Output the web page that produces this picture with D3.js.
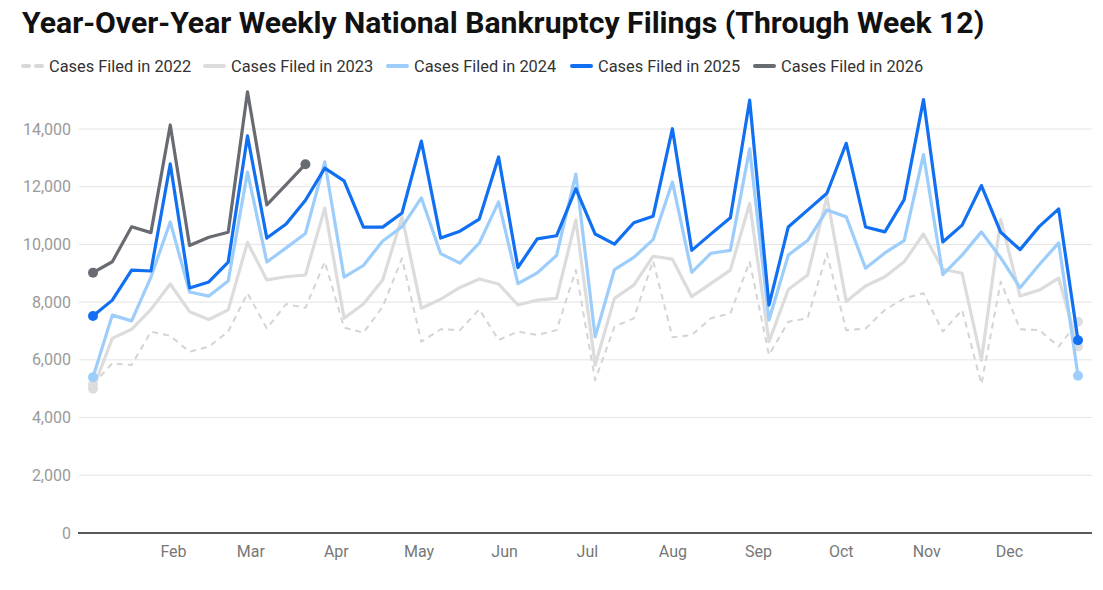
<!DOCTYPE html>
<html>
<head>
<meta charset="utf-8">
<script src="https://cdn.jsdelivr.net/npm/d3@7"></script>
<style>
  html, body { margin: 0; padding: 0; background: #fff; }
  svg { display: block; font-family: Roboto, "Noto Sans", Arial, sans-serif; }
</style>
</head>
<body>
<svg id="chart" width="1103" height="590"></svg>
<script>
// ---------------- DATA ----------------
const titleText = "Year-Over-Year Weekly National Bankruptcy Filings (Through Week 12)";
const weeks = [1,2,3,4,5,6,7,8,9,10,11,12,13,14,15,16,17,18,19,20,21,22,23,24,25,26,
               27,28,29,30,31,32,33,34,35,36,37,38,39,40,41,42,43,44,45,46,47,48,49,50,51,52];
const seriesNames = ["Cases Filed in 2022","Cases Filed in 2023","Cases Filed in 2024","Cases Filed in 2025","Cases Filed in 2026"];

const cases2022 = [5150,5880,5820,6980,6830,6280,6460,6980,8310,7090,7935,7800,9400,
                   7120,6940,7840,9520,6630,7060,7030,7750,6690,6980,6860,7030,9110,
                   5300,7150,7440,9430,6780,6860,7440,7610,9400,6170,7320,7440,9690,
                   7030,7090,7730,8130,8310,6980,7730,5160,8710,7060,7030,6460,7320];
const cases2023 = [5000,6745,7060,7750,8630,7670,7400,7730,10070,8770,8880,8940,11260,
                   7440,7935,8770,10960,7790,8100,8510,8800,8630,7900,8070,8130,10850,
                   5820,8130,8590,9590,9490,8190,8650,9110,11420,6630,8440,8940,11650,
                   8020,8560,8880,9400,10360,9140,9000,5990,10870,8210,8420,8830,6460];
const cases2024 = [5400,7550,7350,8870,10780,8350,8210,8730,12510,9390,9880,10380,12860,
                   8865,9270,10120,10610,11615,9680,9350,10045,11475,8640,9015,9615,12440,
                   6795,9130,9550,10165,12165,9035,9695,9795,13315,7380,9630,10135,11190,
                   10955,9175,9705,10135,13115,8955,9630,10435,9530,8500,9305,10055,5450];
const cases2025 = [7520,8070,9110,9080,12790,8490,8700,9390,13760,10220,10710,11530,12645,
                   12200,10600,10600,11090,13580,10220,10460,10880,13030,9200,10190,10300,11930,
                   10360,10010,10750,10980,14010,9795,10365,10925,15000,7900,10605,11190,11775,
                   13505,10605,10435,11555,15020,10085,10670,12040,10420,9820,10625,11230,6680];
const cases2026 = [9020,9400,10610,10410,14140,9960,10250,10420,15290,11370,12075,12780];

const yTicks = [0,2000,4000,6000,8000,10000,12000,14000];

// ---------------- STYLES ----------------
const styles = [
  {color:"#d4d4d4", width:2,   dash:"6,5", dot:"#dedede"},
  {color:"#dcdcdc", width:3.2, dash:null,  dot:"#dcdcdc"},
  {color:"#9ccdfb", width:3.2, dash:null,  dot:"#9ccdfb"},
  {color:"#1170f2", width:3.2, dash:null,  dot:"#1170f2"},
  {color:"#686c72", width:3.2, dash:null,  dot:"#686c72"}
];
const allSeries = [cases2022, cases2023, cases2024, cases2025, cases2026];

// ---------------- CHART ----------------
const svg = d3.select("#chart");
const startDate = new Date(2025, 0, 3);
const weekDate = w => d3.timeDay.offset(startDate, (w - 1) * 7);

const x = d3.scaleTime()
  .domain([weekDate(weeks[0]), weekDate(weeks[weeks.length - 1])])
  .range([93, 1078]);
const y = d3.scaleLinear().domain([0, 14000]).range([533, 129]);

const gridLeft = 79, gridRight = 1092;

// title
const title = svg.append("text")
  .attr("x", 22).attr("y", 33)
  .attr("font-size", 28).attr("font-weight", 700).attr("fill", "#111")
  .text(titleText);
const tw = title.node().getComputedTextLength();
title.attr("font-size", 28 * 963 / tw);

// legend
const legendX = [23, 205, 388, 572, 755];
const legend = svg.append("g");
seriesNames.forEach((name, i) => {
  const g = legend.append("g").attr("transform", `translate(${legendX[i]},66)`);
  g.append("line").attr("x1", 0).attr("x2", 19).attr("y1", 0).attr("y2", 0)
    .attr("stroke", i === 0 ? "#d8d8d8" : styles[i].color)
    .attr("stroke-width", 4)
    .attr("stroke-linecap", "round")
    .attr("stroke-dasharray", i === 0 ? "6,7" : null);
  g.append("text").attr("x", 26).attr("y", 6)
    .attr("font-size", 16.4).attr("fill", "#333").text(name);
});

// grid + y labels
const gy = svg.append("g");
gy.selectAll("line.grid").data(yTicks.filter(d => d > 0)).join("line")
  .attr("class", "grid")
  .attr("x1", gridLeft).attr("x2", gridRight)
  .attr("y1", d => y(d)).attr("y2", d => y(d))
  .attr("stroke", "#e4e4e4").attr("stroke-width", 1);
gy.selectAll("text").data(yTicks).join("text")
  .attr("x", 71).attr("y", d => y(d)).attr("dy", "0.35em")
  .attr("text-anchor", "end").attr("font-size", 16).attr("fill", "#9a9a9a")
  .text(d => d3.format(",")(d));

// x axis
const monthTicks = d3.timeMonth.range(new Date(2025, 1, 1), new Date(2025, 11, 2));
const xAxis = d3.axisBottom(x).tickValues(monthTicks).tickFormat(d3.timeFormat("%b")).tickSize(0).tickPadding(0);
const gx = svg.append("g").attr("transform", `translate(0,${y(0)})`).call(xAxis);
gx.select(".domain").remove();
gx.selectAll("text").attr("font-size", 16).attr("fill", "#777").attr("font-family", "Roboto, sans-serif")
  .attr("dy", null).attr("y", 24);

// lines
const line = d3.line().x((d, i) => x(weekDate(weeks[i]))).y(d => y(d));
const gl = svg.append("g");
allSeries.forEach((vals, s) => {
  gl.append("path").datum(vals)
    .attr("d", line)
    .attr("fill", "none")
    .attr("stroke", styles[s].color)
    .attr("stroke-width", styles[s].width)
    .attr("stroke-linejoin", "round")
    .attr("stroke-linecap", "butt")
    .attr("stroke-dasharray", styles[s].dash);
  const ends = [0, vals.length - 1];
  gl.selectAll(null).data(ends).join("circle")
    .attr("cx", i => x(weekDate(weeks[i])))
    .attr("cy", i => y(vals[i]))
    .attr("r", 5)
    .attr("fill", styles[s].dot);
});

// zero line
svg.append("line")
  .attr("x1", gridLeft - 1).attr("x2", gridRight)
  .attr("y1", y(0)).attr("y2", y(0))
  .attr("stroke", "#222").attr("stroke-width", 1.5);
</script>
</body>
</html>
